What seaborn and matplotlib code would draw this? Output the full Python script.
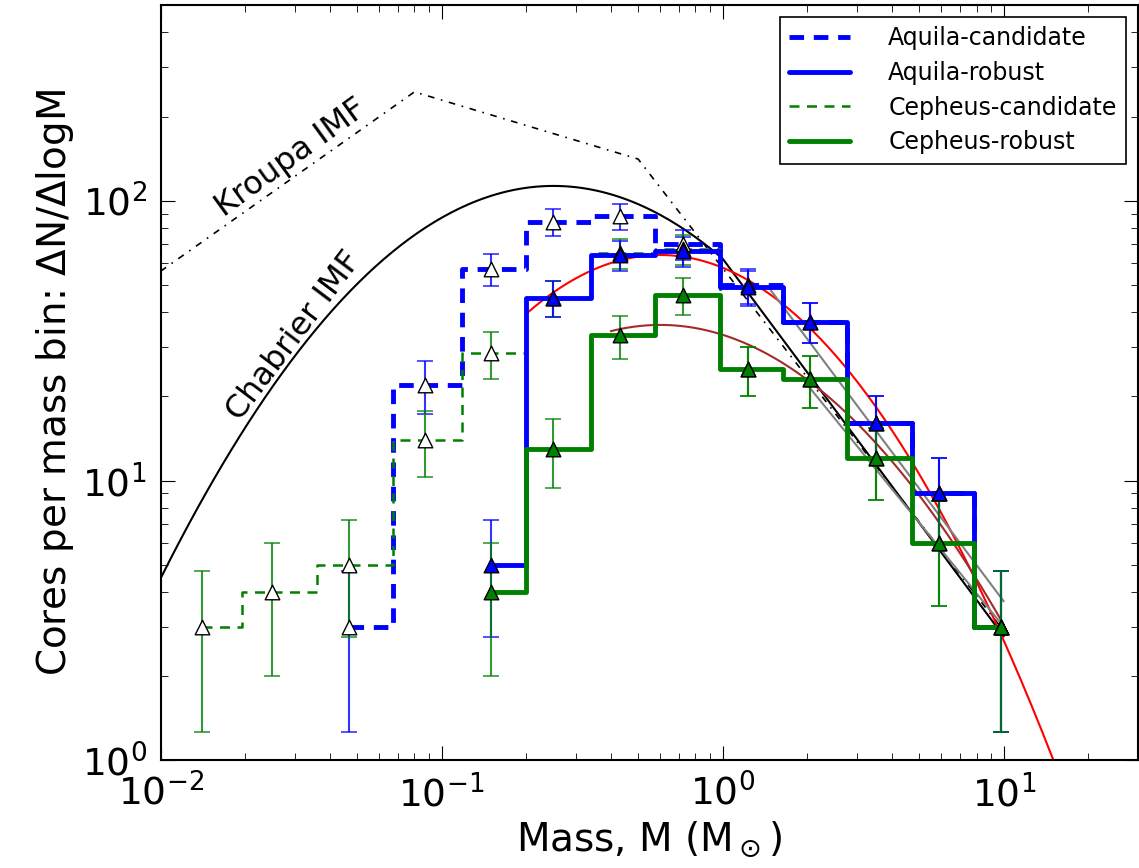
import numpy as np
import matplotlib
matplotlib.use("Agg")
import matplotlib.pyplot as plt
import seaborn as sns

sns.set_style("ticks")
plt.rcParams['font.family'] = ['DejaVu Sans']
plt.rcParams['mathtext.fontset'] = 'dejavusans'
for k in ['text.color', 'axes.labelcolor', 'xtick.color', 'ytick.color', 'axes.edgecolor']:
    plt.rcParams[k] = 'black'

mass = [0.014, 0.025, 0.047, 0.087, 0.15, 0.25, 0.43, 0.72, 1.23, 2.05, 3.5, 5.9, 9.8]
aq_cand = [None, None, 3, 22, 57, 84, 88, 70, 50, 37, 16, 9, 3]
aq_rob = [None, None, None, None, 5, 45, 64, 66, 49, 37, 16, 9, 3]
ce_cand = [3, 4, 5, 14, 28.5, 45, 65, 67, 25, 23, 12, 6, 3]
ce_rob = [None, None, None, None, 4, 13, 33, 46, 25, 23, 12, 6, 3]

# Kroupa IMF break points
kroupa_m = [0.01, 0.08, 0.5, 10]
kroupa_n = [56, 245, 141, 2.9]
# Chabrier IMF: lognormal (peak mass, sigma, amplitude) + high-mass slope
chab_par = [0.25, 0.55, 113, -1.35]
# fits: lognormal (peak mass, sigma, amplitude, m_min, m_max)
red_fit = [0.6, 0.485, 64, 0.2, 15]
brown_fit = [0.6, 0.55, 36, 0.4, 10]
gray1 = ([1.48, 10], [48, 3.7])
gray2 = ([2.0, 10], [22, 3.0])

fig, ax = plt.subplots(figsize=(11.39, 8.68), dpi=100)
fig.subplots_adjust(left=0.141, right=0.999, top=0.994, bottom=0.124)

def lognorm(m, p):
    return p[2] * np.exp(-(np.log10(m) - np.log10(p[0]))**2 / (2 * p[1]**2))

mm = np.logspace(-2, 0, 200)
mh = np.logspace(0, 1, 50)
cm = np.concatenate([mm, mh])
cn = np.concatenate([lognorm(mm, chab_par), lognorm(1.0, chab_par) * mh**chab_par[3]])
ax.plot(cm, cn, color='black', lw=1.5)
ax.plot(kroupa_m, kroupa_n, color='black', lw=1.2, ls=(0, (4, 4, 1, 4)))

for fit, col in [(red_fit, 'red'), (brown_fit, '#a52a2a')]:
    m = np.logspace(np.log10(fit[3]), np.log10(fit[4]), 200)
    ax.plot(m, lognorm(m, fit), color=col, lw=1.5)
ax.plot(*gray1, color='gray', lw=1.5)
ax.plot(*gray2, color='gray', lw=1.5)

def draw(vals, color, ls, lw, filled, label, ecol):
    x = [m for m, v in zip(mass, vals) if v is not None]
    y = [v for v in vals if v is not None]
    y = np.array(y, float)
    ax.plot(x, y, drawstyle='steps-mid', color=color, ls=ls, lw=lw, label=label)
    ax.errorbar(x, y, yerr=np.sqrt(y), fmt='none', ecolor=ecol, elinewidth=1.5, capsize=6, capthick=1.2, alpha=0.8)
    ax.scatter(x, y, marker='^', s=110, facecolor=color if filled else 'white', edgecolor='black', lw=1, zorder=5)

draw(aq_cand, 'blue', (0, (3, 2)), 3.5, False, 'Aquila-candidate', 'blue')
draw(ce_cand, 'green', (0, (4, 3)), 1.8, False, 'Cepheus-candidate', 'green')
draw(aq_rob, 'blue', '-', 3.5, True, 'Aquila-robust', 'blue')
draw(ce_rob, 'green', '-', 3.5, True, 'Cepheus-robust', 'green')

ax.set_xscale('log'); ax.set_yscale('log')
ax.set_xlim(0.01, 30); ax.set_ylim(1, 500)
ax.tick_params(which='both', direction='in', top=True, right=True)
ax.tick_params(which='major', length=10, labelsize=27, pad=10)
ax.tick_params(which='minor', length=5)
for s in ax.spines.values():
    s.set_linewidth(1.5)
ax.set_xlabel(r'Mass, M (M$_\odot$)', fontsize=28)
ax.set_ylabel(r'Cores per mass bin: $\Delta$N/$\Delta$logM', fontsize=28)

ax.text(0.029, 142, 'Kroupa IMF', rotation=36, fontsize=23, ha='center', va='center')
ax.text(0.030, 33, 'Chabrier IMF', rotation=53, fontsize=23, ha='center', va='center')

h, l = ax.get_legend_handles_labels()
order = [l.index(n) for n in ['Aquila-candidate', 'Aquila-robust', 'Cepheus-candidate', 'Cepheus-robust']]
leg = ax.legend([h[i] for i in order], [l[i] for i in order], loc='upper right', fontsize=17,
                fancybox=False, edgecolor='black', framealpha=1, borderaxespad=0.5,
                handlelength=2.6, handletextpad=1.6, labelspacing=0.45)
leg.get_frame().set_linewidth(1.2)

fig.savefig('out.png', dpi=100)
